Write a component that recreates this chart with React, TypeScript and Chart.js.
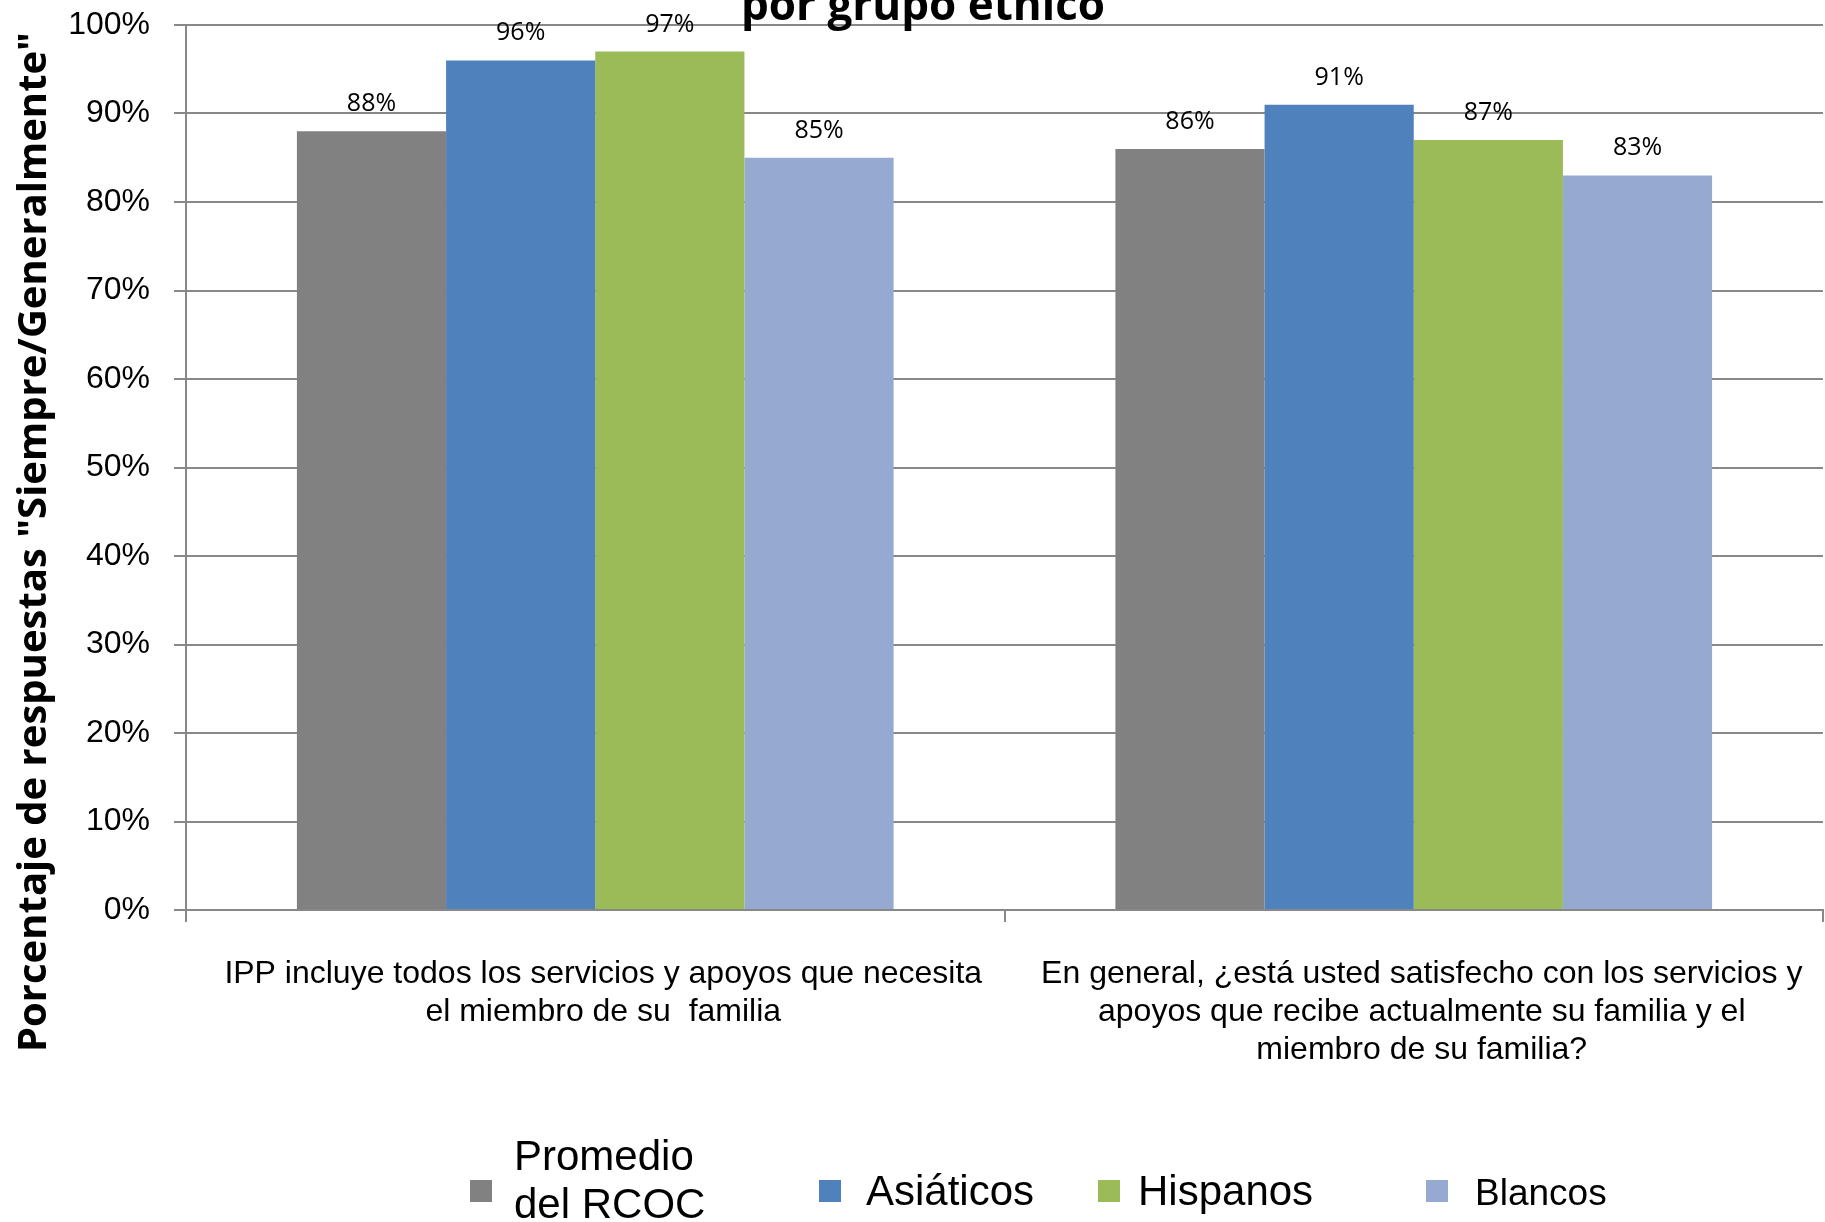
import React, { useEffect, useRef } from "react";
import { Chart, registerables } from "chart.js";

Chart.register(...registerables);

// ---------- data ----------
const categories: string[][] = [
  ["IPP incluye todos los servicios y apoyos que necesita", "el miembro de su  familia"],
  [
    "En general, ¿está usted satisfecho con los servicios y",
    "apoyos que recibe actualmente su familia y el",
    "miembro de su familia?",
  ],
];
const seriesNames: string[][] = [["Promedio", "del RCOC"], ["Asiáticos"], ["Hispanos"], ["Blancos"]];
const promedioRCOC = [88, 86];
const asiaticos = [96, 91];
const hispanos = [97, 87];
const blancos = [85, 83];
const seriesColors = ["#818181", "#4F81BD", "#9BBB59", "#95A9D1"];
const chartTitle = "por grupo étnico";
const yAxisTitle = 'Porcentaje de respuestas "Siempre/Generalmente"';
const yMin = 0;
const yMax = 100;
const yStep = 10;

// ---------- styles ----------
const GRID = "#888888";
const SANS = "'Liberation Sans', Arial, sans-serif";
const OPEN = "'Open Sans', 'DejaVu Sans', sans-serif";

const dataLabelPlugin = {
  id: "dataLabels",
  afterDatasetsDraw(chart: any) {
    const ctx = chart.ctx;
    ctx.save();
    ctx.font = `25px ${OPEN}`;
    ctx.fillStyle = "#000";
    ctx.textAlign = "center";
    ctx.textBaseline = "alphabetic";
    chart.data.datasets.forEach((ds: any, i: number) => {
      const meta = chart.getDatasetMeta(i);
      meta.data.forEach((el: any, j: number) => {
        ctx.fillText(`${ds.data[j]}%`, el.x, el.y - 20);
      });
    });
    ctx.restore();
  },
};

const titlesPlugin = {
  id: "titles",
  afterDraw(chart: any) {
    const ctx = chart.ctx;
    ctx.save();
    // chart title (partly cut at top)
    ctx.font = `bold 44px ${OPEN}`;
    ctx.fillStyle = "#000";
    ctx.textAlign = "center";
    ctx.textBaseline = "alphabetic";
    ctx.fillText(chartTitle, 923, 20);
    // y axis title
    ctx.translate(35, 542);
    ctx.rotate(-Math.PI / 2);
    ctx.font = `bold 40px ${OPEN}`;
    ctx.textBaseline = "middle";
    ctx.fillText(yAxisTitle, 0, 0);
    ctx.restore();
  },
};

const legendPlugin = {
  id: "customLegend",
  afterDraw(chart: any) {
    const ctx = chart.ctx;
    const boxX = [470, 819, 1098, 1426];
    const textX = [514, 866, 1138, 1475];
    const sizes = [42, 42, 42, 37];
    const boxY = 1180;
    const box = 22;
    ctx.save();
    ctx.textAlign = "left";
    ctx.textBaseline = "alphabetic";
    chart.data.datasets.forEach((ds: any, i: number) => {
      ctx.fillStyle = ds.backgroundColor;
      ctx.fillRect(boxX[i], boxY, box, box);
      ctx.fillStyle = "#000";
      ctx.font = `${sizes[i]}px ${SANS}`;
      const lines: string[] = seriesNames[i];
      if (lines.length === 1) {
        ctx.fillText(lines[0], textX[i], 1205);
      } else {
        lines.forEach((ln, k) => ctx.fillText(ln, textX[i], 1170 + k * 48));
      }
    });
    ctx.restore();
  },
};

export default function App() {
  const canvasRef = useRef<HTMLCanvasElement | null>(null);

  useEffect(() => {
    if (!canvasRef.current) return;
    const series = [promedioRCOC, asiaticos, hispanos, blancos];
    const chart = new Chart(canvasRef.current, {
      type: "bar",
      data: {
        labels: categories,
        datasets: series.map((d, i) => ({
          label: seriesNames[i].join(" "),
          data: d,
          backgroundColor: seriesColors[i],
          borderWidth: 0,
          categoryPercentage: 0.729,
          barPercentage: 1.0,
        })),
      },
      options: {
        animation: false,
        responsive: true,
        maintainAspectRatio: false,
        devicePixelRatio: 1,
        layout: { padding: { top: 25, left: 0, right: 2, bottom: 0 } },
        plugins: {
          legend: { display: false },
          title: { display: false },
          tooltip: { enabled: false },
        },
        scales: {
          x: {
            grid: {
              drawOnChartArea: false,
              drawTicks: true,
              tickLength: 12,
              color: GRID,
              lineWidth: 2,
              offset: true,
            },
            border: { display: true, color: GRID, width: 2 },
            ticks: {
              font: { family: SANS, size: 32, lineHeight: 1.19 },
              color: "#000",
              padding: 33,
              maxRotation: 0,
              minRotation: 0,
              autoSkip: false,
              labelOffset: 8,
            },
            afterFit: (s: any) => {
              s.height = 312;
              s.paddingLeft = 0;
              s.paddingRight = 0;
            },
          },
          y: {
            min: yMin,
            max: yMax,
            ticks: {
              stepSize: yStep,
              callback: (v: any) => `${v}%`,
              font: { family: SANS, size: 32 },
              color: "#000",
              padding: 24,
            },
            grid: { color: GRID, lineWidth: 2, tickLength: 12, drawTicks: true },
            border: { display: true, color: GRID, width: 2 },
            afterFit: (s: any) => {
              s.width = 186;
              s.paddingTop = 0;
              s.paddingBottom = 0;
            },
          },
        },
      },
      plugins: [dataLabelPlugin, titlesPlugin, legendPlugin],
    } as any);
    return () => chart.destroy();
  }, []);

  return (
    <div style={{ position: "absolute", left: 0, top: 0, width: 1825, height: 1222, background: "#fff" }}>
      <canvas ref={canvasRef} />
    </div>
  );
}
